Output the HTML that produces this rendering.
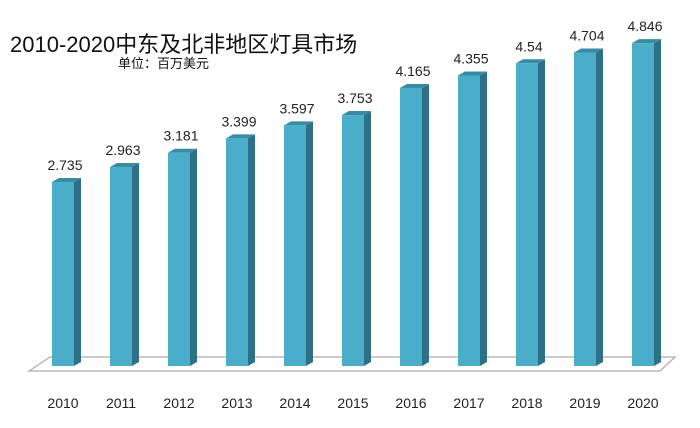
<!DOCTYPE html><html><head><meta charset="utf-8"><style>body{margin:0;background:#fff}</style></head><body>
<svg width="700" height="423" xmlns="http://www.w3.org/2000/svg" font-family="Liberation Sans, Noto Sans CJK SC, sans-serif">
<text x="10" y="52" font-size="22" fill="#111">2010-2020中东及北非地区灯具市场</text>
<text x="118" y="68" font-size="13" fill="#111">单位：百万美元</text>
<polygon points="50,357 675,357 660,371 29,371" fill="#fff" stroke="#aaa" stroke-width="1.2"/>
<g id="bars"></g>
</svg>
<script>
var v=[2.735,2.963,3.181,3.399,3.597,3.753,4.165,4.355,4.54,4.704,4.846],s='';
for(var i=0;i<11;i++){var x=52+58*i,t=362-65.8*v[i],b=366;
s+='<polygon points="'+(x+22)+','+t+' '+(x+29)+','+(t-4)+' '+(x+29)+','+(b-4)+' '+(x+22)+','+b+'" fill="#2d7088"/>';
s+='<polygon points="'+x+','+t+' '+(x+7)+','+(t-4)+' '+(x+29)+','+(t-4)+' '+(x+22)+','+t+'" fill="#3a8aa3"/>';
s+='<rect x="'+x+'" y="'+t+'" width="22" height="'+(b-t)+'" fill="#4aaecb"/>';
s+='<text x="'+(x+13)+'" y="'+(t-12)+'" font-size="14" text-anchor="middle" fill="#222">'+v[i]+'</text>';
s+='<text x="'+(x+11)+'" y="408" font-size="14" text-anchor="middle" fill="#222">'+(2010+i)+'</text>';}
document.getElementById('bars').innerHTML=s;
</script></body></html>
